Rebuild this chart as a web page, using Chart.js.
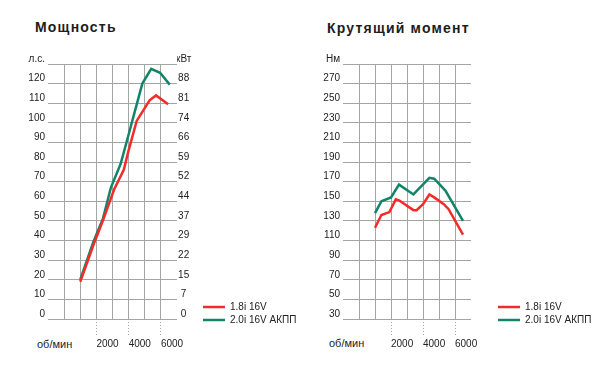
<!DOCTYPE html>
<html>
<head>
<meta charset="utf-8">
<script src="https://cdn.jsdelivr.net/npm/chart.js@4.4.1/dist/chart.umd.min.js"></script>
<style>
  body { margin: 0; background: #fff; }
  #wrap { position: relative; width: 604px; height: 376px; font-family: Arial, "Liberation Sans", sans-serif; color: #1d1d1d; }
  .ttl { position: absolute; font-weight: bold; font-size: 14px; line-height: 16px; letter-spacing: 1.2px; }
  .unit { position: absolute; font-size: 11px; line-height: 14px; }
  .pane { position: absolute; top: 0; height: 376px; }
</style>
</head>
<body>
<div id="wrap">
  <div class="ttl" style="left:35px;top:19px">Мощность</div>
  <div class="ttl" style="left:327px;top:20px">Крутящий момент</div>
  <div class="unit" style="left:37px;top:337px">об/мин</div>
  <div class="unit" style="left:329px;top:336px">об/мин</div>
  <div class="pane" style="left:0;width:300px"><canvas id="power"></canvas></div>
  <div class="pane" style="left:300px;width:304px"><canvas id="torque"></canvas></div>
</div>
<script>
// engine names
const engines = ['1.8i 16V', '2.0i 16V АКПП'];
const colors = ['#f22b2b', '#128569'];

// power, л.с. vs об/мин
const powerRpm18 = [1000, 1850, 2400, 3100, 3700, 4000, 4500, 5300, 5700, 6450];
const powerHp18  = [19, 38.5, 50, 66, 76, 86, 101, 111.5, 114, 109.5];
const powerRpm20 = [1000, 1800, 2400, 2900, 3500, 3900, 4850, 5400, 5950, 6550];
const powerHp20  = [20, 39, 51, 67, 79, 91, 120, 127.5, 125.5, 119.5];

// torque, Нм vs об/мин
const torqueRpm18 = [1000, 1400, 1900, 2300, 2500, 3400, 3600, 4000, 4400, 4700, 5300, 5600, 6500];
const torqueNm18  = [123, 136, 139, 152, 151, 141, 141, 147, 157, 154, 147, 142, 116];
const torqueRpm20 = [1000, 1400, 2000, 2500, 3400, 4400, 4700, 5400, 6500];
const torqueNm20  = [138, 150, 154, 167, 157, 174, 173, 161, 130];

// tick labels
const kwLabels = [0, 7, 15, 22, 29, 37, 44, 52, 59, 66, 74, 81, 88];
const rpmLabels = [2000, 4000, 6000];

const gridColor = '#a2a7a2';
const none = 'rgba(0,0,0,0)';

Chart.defaults.font.family = 'Arial, "Liberation Sans", sans-serif';
Chart.defaults.font.size = 10;
Chart.defaults.color = '#222';

function pts(xs, ys) {
  return xs.map((x, i) => ({ x: x, y: ys[i] }));
}

function lineSet(i, xs, ys) {
  return {
    label: engines[i],
    data: pts(xs, ys),
    borderColor: colors[i],
    backgroundColor: colors[i],
    borderWidth: 2.5,
    pointRadius: 0,
    tension: 0
  };
}

function xAxis() {
  return {
    type: 'linear',
    min: -1000,
    max: 7000,
    border: { display: false },
    grid: {
      color: c => (c.tick && (c.tick.value < 0 || c.tick.value > 6000)) ? none : gridColor,
      borderDash: [1, 2],
      tickLength: 18,
      tickColor: c => (c.tick && rpmLabels.includes(c.tick.value)) ? gridColor : none,
      tickBorderDash: [1, 2]
    },
    ticks: {
      stepSize: 1000,
      autoSkip: false,
      maxRotation: 0,
      align: 'start',
      // mirrored so the labels are not clipped by the short axis box
      mirror: true,
      padding: -31,
      callback: v => rpmLabels.includes(v) ? String(v) : ''
    },
    afterFit: s => { s.height = 9; }
  };
}

function legendOpts() {
  return {
    position: 'right',
    align: 'end',
    maxWidth: 96,
    labels: {
      usePointStyle: true,
      pointStyle: 'line',
      pointStyleWidth: 22,
      padding: 3,
      font: { size: 10 }
    }
  };
}

new Chart(document.getElementById('power'), {
  type: 'line',
  data: {
    datasets: [
      lineSet(0, powerRpm18, powerHp18),
      lineSet(1, powerRpm20, powerHp20)
    ]
  },
  options: {
    responsive: true,
    maintainAspectRatio: false,
    animation: false,
    layout: { padding: { left: 0, top: 64, right: 4, bottom: 48 } },
    scales: {
      x: xAxis(),
      y: {
        min: 0,
        max: 130,
        border: { display: false },
        grid: { color: gridColor, borderDash: [1, 2], drawTicks: false },
        ticks: {
          stepSize: 10,
          autoSkip: false,
          padding: 3,
          labelOffset: -5,
          callback: v => v === 130 ? 'л.с.' : v
        },
        afterFit: s => { s.width = 48; }
      },
      y1: {
        position: 'right',
        min: 0,
        max: 130,
        border: { display: false },
        grid: { display: false, drawTicks: false },
        ticks: {
          stepSize: 10,
          autoSkip: false,
          crossAlign: 'center',
          padding: -1,
          labelOffset: -5,
          callback: v => v === 130 ? 'кВт' : kwLabels[v / 10]
        },
        afterFit: s => { s.width = 23; }
      }
    },
    plugins: {
      legend: legendOpts(),
      tooltip: { enabled: false }
    }
  }
});

new Chart(document.getElementById('torque'), {
  type: 'line',
  data: {
    datasets: [
      lineSet(0, torqueRpm18, torqueNm18),
      lineSet(1, torqueRpm20, torqueNm20)
    ]
  },
  options: {
    responsive: true,
    maintainAspectRatio: false,
    animation: false,
    layout: { padding: { left: 0, top: 64, right: 13, bottom: 48 } },
    scales: {
      x: xAxis(),
      y: {
        min: 30,
        max: 290,
        border: { display: false },
        grid: { color: gridColor, borderDash: [1, 2], drawTicks: false },
        ticks: {
          stepSize: 20,
          autoSkip: false,
          padding: 3,
          labelOffset: -5,
          callback: v => v === 290 ? 'Нм' : v
        },
        afterFit: s => { s.width = 43; }
      },
      // empty right axis, only keeps the gap before the legend
      y1: {
        position: 'right',
        border: { display: false },
        grid: { display: false, drawTicks: false },
        ticks: { display: false },
        afterFit: s => { s.width = 24; }
      }
    },
    plugins: {
      legend: legendOpts(),
      tooltip: { enabled: false }
    }
  }
});
</script>
</body>
</html>
